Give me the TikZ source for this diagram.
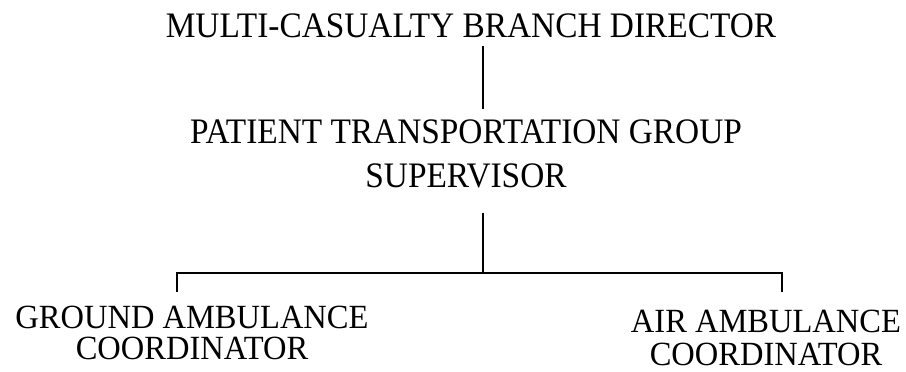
\documentclass[tikz,border=0pt]{standalone}
\usepackage{fontspec}
\setmainfont{Liberation Serif}
\newfontfamily\rolefont{Liberation Serif}[FakeStretch=0.93]
\newfontfamily\unitfont{Liberation Serif}[FakeStretch=0.96]
\usetikzlibrary{positioning}

\begin{document}
\begin{tikzpicture}[
    x=1bp, y=-1bp,
    role/.style={align=center, inner sep=0pt, font=\rolefont\fontsize{36}{44}\selectfont},
    unit/.style={align=center, inner sep=0pt, font=\unitfont\fontsize{34}{31}\selectfont},
    link/.style={line width=1.6bp}
]
\useasboundingbox (0,0) rectangle (906,371);

\node[role, anchor=base] (mcbd) at (471,37) {MULTI-CASUALTY BRANCH DIRECTOR};
\node[role, anchor=north] (ptgs) at (466,120) {PATIENT TRANSPORTATION GROUP\\SUPERVISOR};
\node[unit, anchor=north] (gac) at (192,306) {GROUND AMBULANCE\\COORDINATOR};
\node[unit, anchor=north, font=\unitfont\fontsize{34}{33}\selectfont] (aac) at (766,310) {AIR AMBULANCE\\COORDINATOR};

\coordinate (bus) at (483,273);
\coordinate (gdrop) at (177,292);
\coordinate (adrop) at (782,292);

\draw[link, shorten <=8bp, shorten >=11bp] (mcbd.south -| bus) -- (ptgs.north -| bus);
\draw[link, shorten <=24bp] (ptgs.south -| bus) -- (bus);
\draw[link] (gdrop) |- (bus) -| (adrop);
\end{tikzpicture}
\end{document}
